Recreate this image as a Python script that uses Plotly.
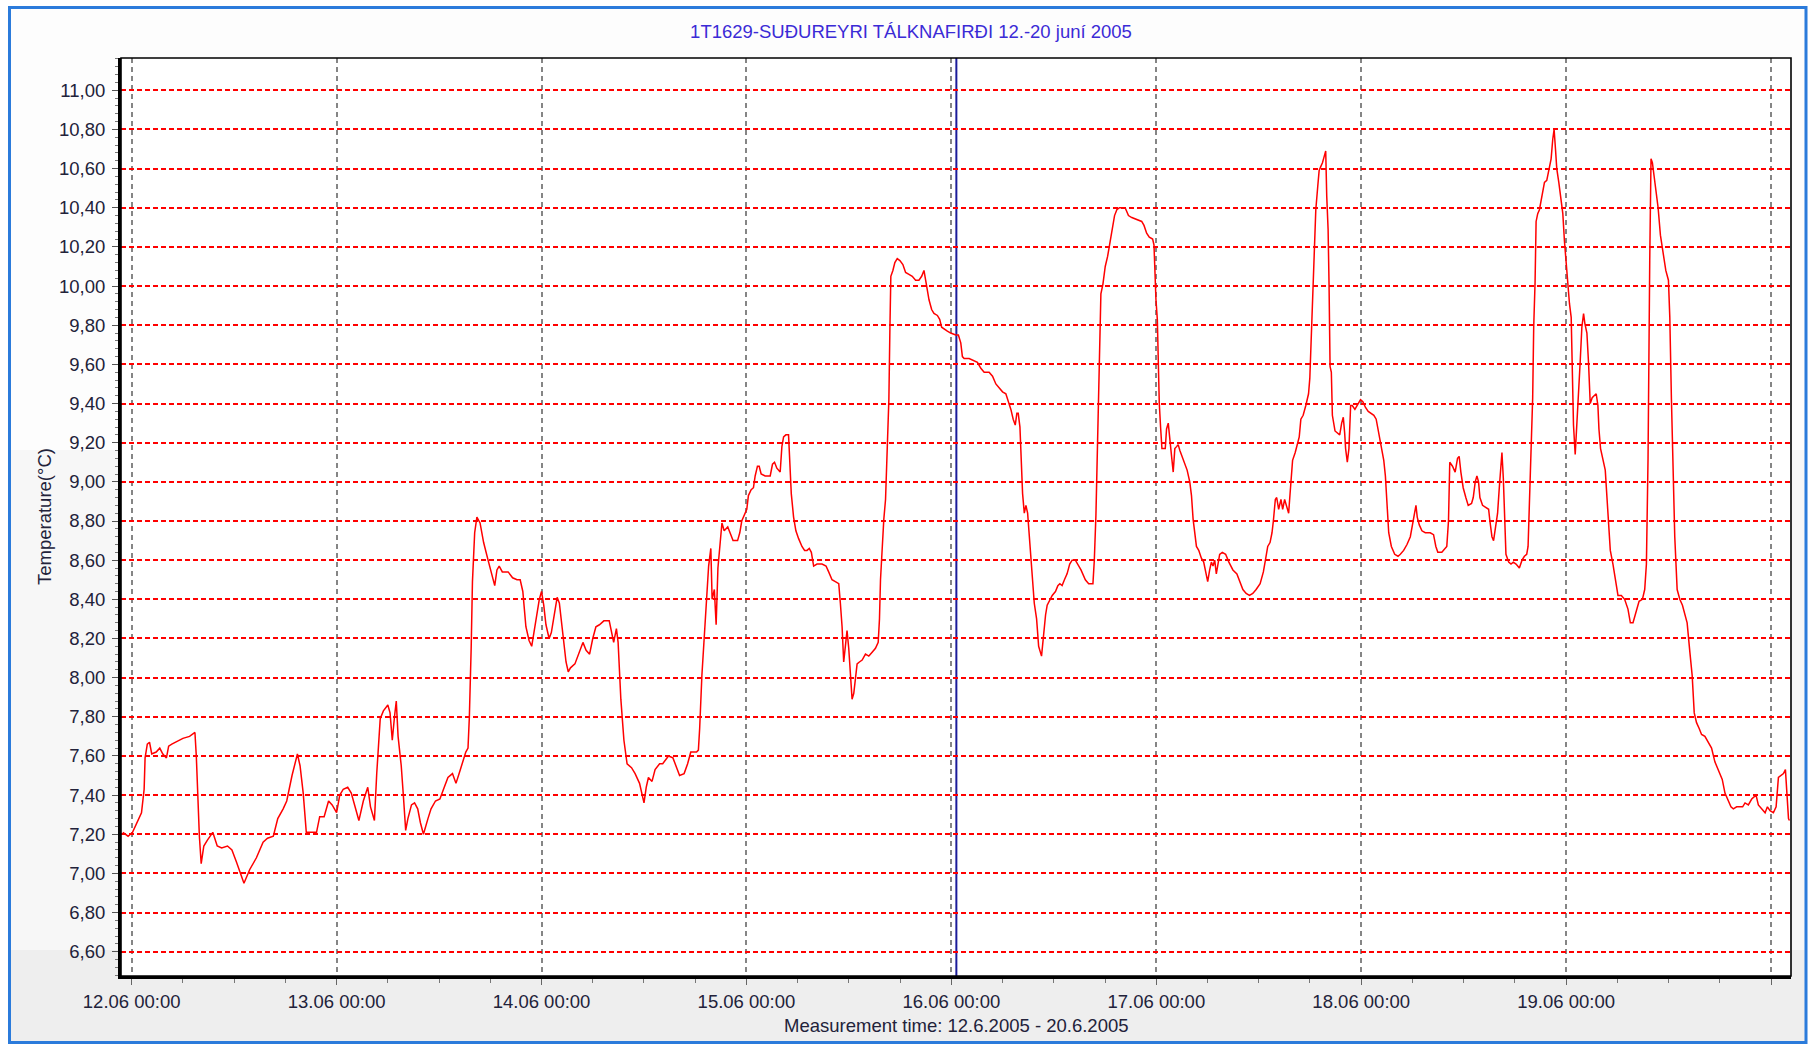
import pandas as pd
import plotly.graph_objects as go

# ---------------- data ----------------
title_text = "1T1629-SUÐUREYRI TÁLKNAFIRÐI 12.-20 juní 2005"
x_title = "Measurement time: 12.6.2005 - 20.6.2005"
y_title = "Temperature(°C)"

# hour-of-day offsets for each day, and the temperature read at those times
day12 = "2005-06-12"
h12 = [-1.04, -0.42, 0.10, 0.78, 1.15, 1.46, 1.57, 1.83, 2.09, 2.35, 2.87, 3.29, 3.65, 4.07, 4.33, 4.70, 5.48,
       6.00, 6.78, 7.41, 7.57, 7.72, 7.93, 8.14, 8.45, 8.87, 9.50, 10.02, 10.54, 11.22, 11.74, 12.26, 13.15,
       13.83, 14.61, 15.39, 15.91, 16.59, 17.11, 17.74, 18.16, 18.78, 19.41, 19.72, 20.09, 20.45, 20.97, 21.65,
       22.02, 22.54, 23.06, 23.48]
t12 = [7.21, 7.19, 7.21, 7.27, 7.31, 7.43, 7.59, 7.66, 7.67, 7.61, 7.62, 7.64, 7.61, 7.59, 7.65, 7.66, 7.68,
       7.69, 7.70, 7.72, 7.60, 7.39, 7.19, 7.05, 7.14, 7.17, 7.21, 7.14, 7.13, 7.14, 7.12, 7.06, 6.95,
       7.02, 7.08, 7.16, 7.18, 7.19, 7.28, 7.33, 7.37, 7.50, 7.61, 7.55, 7.41, 7.21, 7.21, 7.21,
       7.29, 7.29, 7.37, 7.35]

day13 = "2005-06-13"
h13 = [0.00, 0.37, 0.78, 1.30, 1.72, 2.19, 2.61, 3.13, 3.65, 3.97, 4.43, 4.70, 4.96, 5.11, 5.48, 6.00, 6.26,
       6.52, 6.78, 6.99, 7.20, 7.57, 7.83, 8.09, 8.35, 8.77, 9.13, 9.50, 9.81, 10.17, 10.70, 11.06, 11.58,
       12.10, 12.52, 13.04, 13.57, 13.98, 14.35, 14.71, 15.13, 15.39, 15.55, 15.76, 15.91, 16.17, 16.43,
       16.80, 17.22, 17.74, 18.16, 18.52, 18.78, 19.04, 19.41, 20.09, 20.61, 21.13, 21.50, 21.81, 22.17,
       22.54, 22.85, 23.22, 23.74]
t13 = [7.31, 7.40, 7.43, 7.44, 7.41, 7.33, 7.27, 7.37, 7.44, 7.34, 7.27, 7.51, 7.68, 7.79, 7.83, 7.86, 7.82,
       7.68, 7.80, 7.88, 7.70, 7.55, 7.39, 7.22, 7.28, 7.35, 7.36, 7.33, 7.26, 7.20, 7.28, 7.33, 7.37,
       7.38, 7.43, 7.49, 7.51, 7.46, 7.51, 7.56, 7.62, 7.64, 7.80, 8.15, 8.49, 8.74, 8.82,
       8.79, 8.69, 8.60, 8.53, 8.47, 8.55, 8.57, 8.54, 8.54, 8.51, 8.50, 8.50, 8.44, 8.26,
       8.19, 8.16, 8.27, 8.40]

day14 = "2005-06-14"
h14 = [0.00, 0.26, 0.52, 0.89, 1.15, 1.57, 1.83, 2.09, 2.35, 2.61, 2.87, 3.13, 3.39, 3.91, 4.43, 4.85, 5.22,
       5.63, 6.00, 6.37, 6.78, 7.30, 7.93, 8.24, 8.45, 8.77, 8.97, 9.29, 9.65, 10.02, 10.54, 10.96, 11.48,
       12.00, 12.26, 12.52, 12.94, 13.30, 13.83, 14.19, 14.87, 15.39, 15.76, 16.17, 16.70, 17.11, 17.48,
       18.16, 18.37, 18.52, 18.78, 19.04, 19.30, 19.57, 19.83, 19.98, 20.24, 20.45, 20.66, 20.87, 21.13,
       21.39, 21.81, 22.17, 22.43, 22.96, 23.22, 23.45]
t14 = [8.44, 8.37, 8.27, 8.20, 8.23, 8.35, 8.41, 8.38, 8.27, 8.16, 8.08, 8.03, 8.05, 8.07, 8.13, 8.18, 8.14,
       8.12, 8.20, 8.26, 8.27, 8.29, 8.29, 8.22, 8.18, 8.25, 8.18, 7.89, 7.68, 7.56, 7.54, 7.51, 7.46,
       7.36, 7.44, 7.49, 7.47, 7.53, 7.56, 7.56, 7.60, 7.59, 7.55, 7.50, 7.51, 7.56, 7.62,
       7.62, 7.63, 7.74, 8.01, 8.21, 8.40, 8.57, 8.66, 8.40, 8.45, 8.27, 8.56, 8.68, 8.79,
       8.75, 8.77, 8.73, 8.70, 8.70, 8.74, 8.80]

day15 = "2005-06-15"
h15 = [0.04, 0.23, 0.55, 0.82, 1.02, 1.29, 1.49, 1.72, 2.19, 2.78, 3.05, 3.29, 3.56, 3.95, 4.15, 4.35, 4.62,
       4.93, 5.01, 5.25, 5.52, 5.79, 6.11, 6.50, 6.81, 7.09, 7.36, 7.60, 7.87, 8.26, 8.85, 9.32, 9.63,
       10.02, 10.41, 10.81, 11.00, 11.20, 11.39, 11.59, 11.78, 11.98, 12.18, 12.37, 12.57, 12.76, 12.96,
       13.23, 13.55, 13.94, 14.33, 14.72, 15.11, 15.43, 15.58, 15.70, 15.90, 16.09, 16.29, 16.48, 16.68,
       16.80, 16.91, 17.15, 17.38, 17.66, 17.97, 18.32, 18.64, 19.03, 19.42, 19.81, 20.20, 20.52, 20.79,
       20.91, 21.06, 21.38, 21.69, 21.96, 22.36, 22.63, 22.86, 23.14, 23.53, 23.92]
t15 = [8.86, 8.93, 8.96, 8.97, 9.03, 9.08, 9.08, 9.04, 9.03, 9.03, 9.09, 9.10, 9.07, 9.05, 9.18, 9.23, 9.24,
       9.24, 9.15, 8.94, 8.82, 8.75, 8.71, 8.67, 8.65, 8.65, 8.66, 8.64, 8.57, 8.58, 8.58, 8.57, 8.54,
       8.50, 8.49, 8.48, 8.38, 8.26, 8.08, 8.15, 8.24, 8.15, 8.03, 7.89, 7.92, 8.01, 8.07,
       8.08, 8.09, 8.12, 8.11, 8.13, 8.15, 8.18, 8.30, 8.50, 8.69, 8.81, 8.91, 9.23, 9.42,
       9.78, 10.05, 10.08, 10.12, 10.14, 10.13, 10.11, 10.07, 10.06, 10.05, 10.03, 10.03, 10.05, 10.08,
       10.05, 10.01, 9.93, 9.88, 9.86, 9.85, 9.83, 9.79, 9.78, 9.77, 9.76]

day16 = "2005-06-16"
h16 = [0.51, 0.82, 1.10, 1.29, 1.49, 2.08, 2.66, 3.05, 3.45, 3.84, 4.42, 4.82, 5.21, 5.60, 5.99, 6.38, 6.70,
       6.97, 7.24, 7.48, 7.67, 7.83, 8.03, 8.18, 8.34, 8.54, 8.73, 8.93, 9.12, 9.32, 9.51, 9.71, 9.98,
       10.22, 10.56, 10.83, 11.03, 11.22, 11.53, 11.81, 12.19, 12.47, 12.70, 12.97, 13.24, 13.55, 13.86,
       14.14, 14.52, 14.80, 15.18, 15.69, 16.08, 16.58, 16.74, 16.93, 17.05, 17.20, 17.36, 17.51, 17.75,
       18.02, 18.29, 18.52, 18.80, 19.11, 19.38, 19.69, 20.35, 20.74, 21.13, 21.71, 22.29, 22.56, 22.87,
       23.18, 23.57, 23.73, 23.84, 23.96]
t16 = [9.75, 9.75, 9.71, 9.64, 9.63, 9.63, 9.62, 9.61, 9.58, 9.56, 9.56, 9.54, 9.50, 9.48, 9.46, 9.45, 9.41,
       9.37, 9.32, 9.29, 9.35, 9.35, 9.28, 9.11, 8.94, 8.84, 8.88, 8.84, 8.72, 8.60, 8.49, 8.38, 8.30,
       8.16, 8.11, 8.25, 8.32, 8.37, 8.40, 8.42, 8.44, 8.47, 8.48, 8.47, 8.50, 8.53, 8.58,
       8.60, 8.60, 8.58, 8.55, 8.50, 8.48, 8.48, 8.60, 8.83, 9.05, 9.35, 9.73, 9.96, 10.01,
       10.10, 10.15, 10.21, 10.30, 10.36, 10.39, 10.40, 10.40, 10.36, 10.35, 10.34, 10.33, 10.31, 10.27,
       10.25, 10.24, 10.21, 10.05, 9.93]

day17 = "2005-06-17"
h17 = [0.12, 0.23, 0.35, 0.50, 0.66, 1.05, 1.20, 1.40, 1.59, 1.79, 1.98, 2.17, 2.37, 2.56, 2.76, 3.07, 3.34,
       3.61, 3.92, 4.12, 4.31, 4.51, 4.70, 4.97, 5.28, 5.55, 5.79, 6.02, 6.25, 6.45, 6.64, 6.84, 7.03,
       7.22, 7.42, 7.73, 8.12, 8.50, 8.97, 9.44, 9.75, 10.14, 10.52, 10.91, 11.30, 11.69, 12.16, 12.54,
       12.78, 13.05, 13.32, 13.55, 13.71, 13.94, 14.10, 14.33, 14.60, 14.80, 15.03, 15.26, 15.50, 15.65,
       15.81, 15.96, 16.27, 16.54, 16.74, 16.93, 17.20, 17.51, 17.83, 17.98, 18.14, 18.29, 18.49, 18.68,
       18.91, 19.07, 19.26, 19.46, 19.65, 19.84, 19.96, 20.12, 20.23, 20.35, 20.50, 20.62, 20.93, 21.20,
       21.48, 21.71, 21.90, 22.06, 22.17, 22.37, 22.56, 22.76, 22.95, 23.26, 23.53, 23.92]
t17 = [9.83, 9.56, 9.40, 9.28, 9.17, 9.17, 9.27, 9.30, 9.20, 9.13, 9.05, 9.17, 9.18, 9.19, 9.16, 9.12, 9.09,
       9.06, 9.00, 8.93, 8.81, 8.72, 8.67, 8.65, 8.61, 8.59, 8.54, 8.49, 8.55, 8.59, 8.57, 8.60, 8.53,
       8.59, 8.63, 8.64, 8.63, 8.59, 8.55, 8.53, 8.49, 8.45, 8.43, 8.42, 8.43, 8.45, 8.48, 8.54,
       8.60, 8.67, 8.69, 8.74, 8.80, 8.91, 8.92, 8.86, 8.91, 8.86, 8.91, 8.88, 8.84, 8.93,
       9.04, 9.11, 9.15, 9.19, 9.23, 9.32, 9.34, 9.39, 9.45, 9.53, 9.73, 10.01, 10.25, 10.39,
       10.51, 10.59, 10.61, 10.63, 10.66, 10.69, 10.46, 10.29, 10.01, 9.59, 9.56, 9.34, 9.26, 9.25,
       9.24, 9.30, 9.33, 9.25, 9.17, 9.10, 9.17, 9.39, 9.39, 9.37, 9.39, 9.42]

day18 = "2005-06-18"
h18 = [0.19, 0.50, 0.82, 1.20, 1.48, 1.75, 2.06, 2.37, 2.64, 2.83, 3.03, 3.22, 3.53, 3.92, 4.31, 4.58, 4.97,
       5.36, 5.75, 6.02, 6.25, 6.41, 6.56, 6.80, 7.11, 7.50, 8.08, 8.47, 8.74, 8.97, 9.44, 9.83, 10.02,
       10.22, 10.37, 10.69, 11.00, 11.28, 11.47, 11.67, 11.94, 12.25, 12.53, 12.92, 13.12, 13.35, 13.55,
       13.74, 13.90, 14.21, 14.53, 14.92, 15.07, 15.31, 15.50, 15.70, 15.97, 16.17, 16.37, 16.48, 16.64,
       16.80, 16.95, 17.27, 17.54, 17.81, 18.13, 18.52, 18.83, 19.11, 19.38, 19.54, 19.69, 19.89, 20.08,
       20.20, 20.36, 20.48, 20.67, 20.87, 21.06, 21.26, 21.46, 21.73, 21.96, 22.24, 22.43, 22.59, 22.75,
       22.90, 23.14, 23.41, 23.61, 23.80]
t18 = [9.41, 9.38, 9.36, 9.35, 9.34, 9.32, 9.25, 9.18, 9.11, 9.03, 8.89, 8.74, 8.67, 8.63, 8.62, 8.63, 8.65,
       8.68, 8.72, 8.78, 8.84, 8.88, 8.82, 8.78, 8.75, 8.74, 8.74, 8.73, 8.67, 8.64, 8.64, 8.66, 8.67,
       8.80, 9.10, 9.08, 9.05, 9.12, 9.13, 9.05, 8.97, 8.92, 8.88, 8.89, 8.92, 9.00, 9.03,
       9.00, 8.92, 8.88, 8.87, 8.86, 8.80, 8.72, 8.70, 8.77, 8.84, 8.97, 9.07, 9.15, 9.02,
       8.77, 8.63, 8.59, 8.58, 8.59, 8.58, 8.56, 8.60, 8.62, 8.63, 8.67, 8.88, 9.06, 9.43,
       9.79, 10.02, 10.33, 10.37, 10.39, 10.43, 10.49, 10.53, 10.54, 10.59, 10.65, 10.75, 10.80, 10.70,
       10.60, 10.53, 10.45, 10.37, 10.23]

day19 = "2005-06-19"
h19 = [0.00, 0.20, 0.39, 0.59, 0.70, 0.86, 1.06, 1.25, 1.49, 1.64, 1.84, 2.04, 2.19, 2.43, 2.62, 2.82, 3.05,
       3.33, 3.52, 3.72, 3.84, 4.03, 4.31, 4.58, 4.78, 4.97, 5.17, 5.48, 5.79, 6.07, 6.46, 6.85, 7.24,
       7.52, 7.83, 8.14, 8.54, 8.93, 9.20, 9.40, 9.59, 9.79, 9.94, 10.10, 10.26, 10.49, 10.77, 11.04,
       11.35, 11.67, 11.98, 12.14, 12.33, 12.53, 12.72, 13.00, 13.31, 13.62, 13.90, 14.17, 14.49, 14.76,
       15.00, 15.27, 15.58, 15.86, 16.25, 16.64, 17.03, 17.42, 17.70, 18.01, 18.28, 18.60, 18.91, 19.30,
       19.58, 19.97, 20.36, 20.67, 20.95, 21.34, 21.73, 22.24, 22.51, 22.90, 23.30, 23.57, 23.88, 24.27,
       24.59, 24.86, 25.14, 25.45, 25.68, 25.84, 26.04, 26.15]
t19 = [10.11, 10.01, 9.91, 9.84, 9.56, 9.29, 9.14, 9.32, 9.47, 9.61, 9.79, 9.86, 9.81, 9.76, 9.61, 9.40, 9.43,
       9.44, 9.45, 9.39, 9.27, 9.17, 9.12, 9.06, 8.92, 8.77, 8.65, 8.58, 8.50, 8.42, 8.42, 8.40, 8.35,
       8.28, 8.28, 8.33, 8.39, 8.40, 8.45, 8.58, 9.12, 10.13, 10.65, 10.63, 10.57, 10.50, 10.40, 10.26,
       10.16, 10.08, 10.03, 9.84, 9.42, 8.97, 8.72, 8.45, 8.40, 8.37, 8.33, 8.28, 8.13, 8.01,
       7.82, 7.77, 7.74, 7.71, 7.70, 7.67, 7.64, 7.57, 7.54, 7.51, 7.48, 7.41, 7.38, 7.34,
       7.33, 7.34, 7.34, 7.34, 7.36, 7.35, 7.38, 7.40, 7.35, 7.33, 7.31, 7.34, 7.32, 7.31,
       7.34, 7.49, 7.50, 7.51, 7.53, 7.39, 7.28, 7.27]

x_range = ["2005-06-11 22:45", "2005-06-20 02:20"]
y_range = [6.476, 11.165]
cursor_time = "2005-06-16 00:35"

# ---------------- build series ----------------
segments = [(day12, h12, t12), (day13, h13, t13), (day14, h14, t14), (day15, h15, t15),
            (day16, h16, t16), (day17, h17, t17), (day18, h18, t18), (day19, h19, t19)]
times, temps = [], []
for d, hs, ts in segments:
    assert len(hs) == len(ts), (d, len(hs), len(ts))
    base = pd.Timestamp(d)
    times += [base + pd.Timedelta(hours=h) for h in hs]
    temps += ts

FONT = "Liberation Sans, Arial, sans-serif"
W, H = 1814, 1045
L, R, T, B = 121, 23, 58, 69
pw, ph = W - L - R, H - T - B


def px(x):  # figure pixel -> paper x
    return (x - L) / pw


def py(y):  # figure pixel -> paper y
    return (H - B - y) / ph


fig = go.Figure()
fig.add_trace(go.Scatter(x=times, y=temps, mode="lines",
                         line=dict(color="#ff0000", width=1.5), hoverinfo="skip", showlegend=False))

shapes = [
    # background bands (light gradient of the window)
    dict(type="rect", xref="paper", yref="paper", x0=px(9), x1=px(1806), y0=py(9), y1=py(450),
         fillcolor="#fdfdfd", line_width=0, layer="below"),
    dict(type="rect", xref="paper", yref="paper", x0=px(9), x1=px(1806), y0=py(450), y1=py(950),
         fillcolor="#f7f7f7", line_width=0, layer="below"),
    dict(type="rect", xref="paper", yref="paper", x0=px(9), x1=px(1806), y0=py(950), y1=py(1043),
         fillcolor="#eeeeee", line_width=0, layer="below"),
    dict(type="rect", xref="paper", yref="paper", x0=0, x1=1, y0=0, y1=1,
         fillcolor="#ffffff", line_width=0, layer="below"),
    # window border
    dict(type="rect", xref="paper", yref="paper", x0=px(9.5), x1=px(1806), y0=py(7.5), y1=py(1042.5),
         line=dict(color="#2b7bdb", width=3), fillcolor="rgba(0,0,0,0)", layer="above"),
    # thin plot frame (top / right)
    dict(type="rect", xref="paper", yref="paper", x0=0, x1=1, y0=0, y1=1,
         line=dict(color="#000000", width=1.6), fillcolor="rgba(0,0,0,0)", layer="above"),
    # cursor line
    dict(type="line", xref="x", yref="paper", x0=cursor_time, x1=cursor_time, y0=0, y1=1,
         line=dict(color="#1c1c9a", width=2), layer="between"),
]

fig.update_layout(
    width=W, height=H, autosize=False,
    margin=dict(l=L, r=R, t=T, b=B, pad=0),
    paper_bgcolor="#ffffff", plot_bgcolor="#ffffff",
    separators=",.",
    font=dict(family=FONT, size=18.5, color="#22223a"),
    title=dict(text=title_text, x=911 / W, xref="container", xanchor="center",
               y=1 - 32 / H, yref="container", yanchor="middle",
               font=dict(family=FONT, size=18.5, color="#3b2bd6")),
    shapes=shapes,
    showlegend=False,
    xaxis=dict(type="date", range=x_range, tickformat="%d.%m %H:%M",
               tick0="2005-06-12", dtick=86400000,
               showline=True, linecolor="#000000", linewidth=3, mirror=False,
               ticks="outside", ticklen=6, tickwidth=1.3, tickcolor="#666666",
               minor=dict(dtick=6 * 3600000, ticks="outside", ticklen=4, tickwidth=1.2,
                          tickcolor="#777777", showgrid=False),
               showgrid=True, gridcolor="#858585", gridwidth=1.5, griddash="5px,4px",
               zeroline=False, ticklabelstandoff=1,
               tickfont=dict(family=FONT, size=18.5, color="#22223a")),
    yaxis=dict(range=y_range, tick0=6.6, dtick=0.2, tickformat=".2f",
               showline=True, linecolor="#000000", linewidth=3, mirror=False,
               ticks="outside", ticklen=6, tickwidth=1.3, tickcolor="#555555",
               minor=dict(dtick=0.04, ticks="outside", ticklen=3, tickwidth=1.1,
                          tickcolor="#777777", showgrid=False),
               showgrid=True, gridcolor="#ff0000", gridwidth=1.6, griddash="5px,3px",
               zeroline=False, ticklabelstandoff=3,
               tickfont=dict(family=FONT, size=18.5, color="#22223a")),
    annotations=[
        dict(text=x_title, xref="paper", yref="paper", x=0.5, y=py(1025), xanchor="center",
             yanchor="middle", showarrow=False, font=dict(family=FONT, size=18.5, color="#22223a")),
        dict(text=y_title, xref="paper", yref="paper", x=px(44), y=0.5, xanchor="center",
             yanchor="middle", textangle=-90, showarrow=False,
             font=dict(family=FONT, size=18.5, color="#22223a")),
    ],
)

fig.write_html("out.html", config={"displayModeBar": False},
               post_script="document.body.style.margin='0px';document.body.style.padding='0px';"
                           "document.documentElement.style.overflow='hidden';")
